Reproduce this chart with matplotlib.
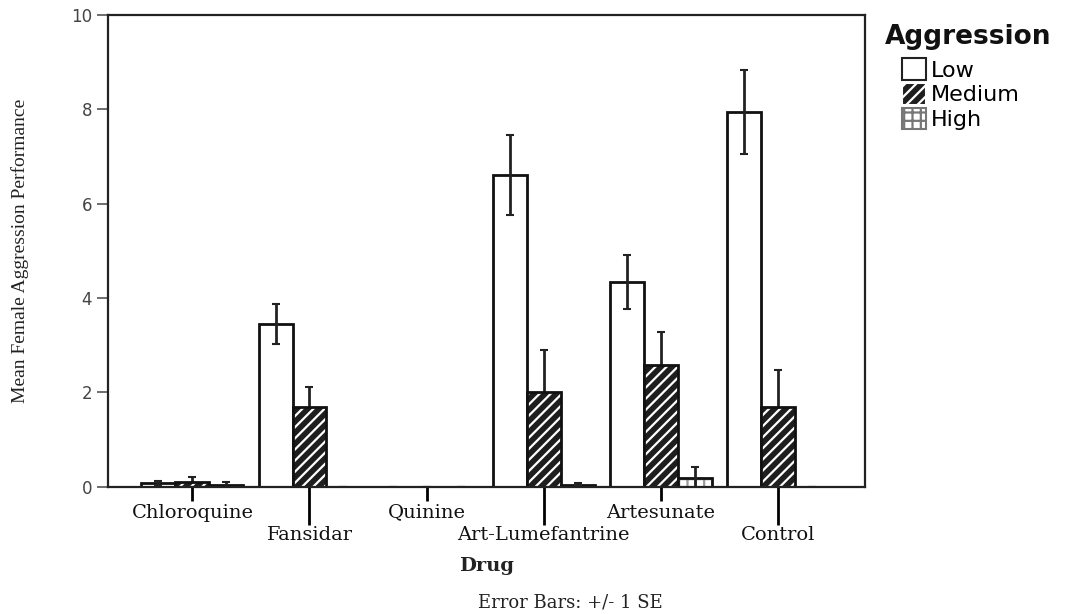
import matplotlib
matplotlib.use("Agg")
import matplotlib.pyplot as plt
from matplotlib.patches import Patch
import numpy as np

drugs = ["Chloroquine", "Fansidar", "Quinine", "Art-Lumefantrine", "Artesunate", "Control"]
levels = ["Low", "Medium", "High"]

low_mean = [0.08, 3.45, 0.0, 6.61, 4.34, 7.94]
low_se = [0.05, 0.43, 0.0, 0.85, 0.58, 0.88]
med_mean = [0.10, 1.69, 0.0, 2.01, 2.58, 1.69]
med_se = [0.10, 0.43, 0.0, 0.90, 0.70, 0.79]
high_mean = [0.05, 0.0, 0.0, 0.05, 0.19, 0.0]
high_se = [0.05, 0.0, 0.0, 0.04, 0.23, 0.0]

plt.rcParams['hatch.linewidth'] = 1.6

fig = plt.figure(figsize=(10.7, 6.14), dpi=100)
ax = fig.add_axes([0.101, 0.207, 0.707, 0.769])

x = np.arange(len(drugs))
w = 0.29
ebkw = dict(fmt='none', ecolor='#222222', elinewidth=2, capsize=3, capthick=1.5)

# low: white bars, error bar on top
ax.bar(x - w, low_mean, w, color='white', edgecolor='#111111', linewidth=2, zorder=2)
ax.errorbar(x - w, low_mean, yerr=low_se, zorder=3, **ebkw)

# medium: dark with white stripes, lower half of error bar hidden
ax.errorbar(x, med_mean, yerr=med_se, zorder=1, **ebkw)
ax.bar(x, med_mean, w, color='#1e1e1e', edgecolor='white', hatch='///', linewidth=0, zorder=2)
ax.bar(x, med_mean, w, fill=False, edgecolor='#111111', linewidth=2, zorder=2)

# high: light cross pattern
ax.bar(x + w, high_mean, w, color='white', edgecolor='#999999', hatch='++', linewidth=0, zorder=2)
ax.bar(x + w, high_mean, w, fill=False, edgecolor='#111111', linewidth=2, zorder=2)
ax.errorbar(x + w, high_mean, yerr=high_se, zorder=3, **ebkw)

ax.set_xlim(-0.72, 5.74)
ax.set_ylim(0, 10)
ax.set_yticks([0, 2, 4, 6, 8, 10])
ax.tick_params(axis='y', direction='out', length=8, width=1.2, color='#555555',
               labelcolor='#444444', labelsize=12)
for lab in ax.get_yticklabels():
    lab.set_family('DejaVu Sans')

# staggered category labels: short ticks for even, long ticks for odd
ax.set_xticks(x[::2])
ax.set_xticklabels(drugs[::2])
ax.set_xticks(x[1::2], minor=True)
ax.set_xticklabels(drugs[1::2], minor=True)
ax.tick_params(axis='x', which='major', direction='out', length=10, width=2, pad=2, labelsize=14)
ax.tick_params(axis='x', which='minor', direction='out', length=27, width=2, pad=1, labelsize=14)
for lab in ax.get_xticklabels() + ax.get_xticklabels(minor=True):
    lab.set_family('DejaVu Serif')
    lab.set_color('#111111')

for s in ax.spines.values():
    s.set_linewidth(1.6)
    s.set_color('#222222')

ax.set_ylabel('Mean Female Aggression Performance', family='Liberation Serif',
              fontsize=14, labelpad=30, color='#222222')

fig.text(0.455, 0.078, 'Drug', family='DejaVu Serif', weight='bold', fontsize=14,
         ha='center', va='center', color='#222222')
fig.text(0.533, 0.018, 'Error Bars: +/- 1 SE', family='DejaVu Serif', fontsize=13,
         ha='center', va='center', color='#222222')

# legend title drawn separately so the entries sit indented under it
fig.text(0.827, 0.94, 'Aggression', family='DejaVu Sans', weight='bold', fontsize=19,
         ha='left', va='center', color='#111111')
handles = [
    Patch(facecolor='white', edgecolor='#222222', linewidth=1.5),
    Patch(facecolor='#1e1e1e', edgecolor='white', hatch='///', linewidth=1.5),
    Patch(facecolor='white', edgecolor='#777777', hatch='++', linewidth=1.5),
]
leg = fig.legend(handles, levels, loc='upper left',
                 bbox_to_anchor=(0.843, 0.905), frameon=False,
                 prop={'family': 'DejaVu Sans', 'size': 16},
                 handlelength=1.1, handleheight=1.1, handletextpad=0.2,
                 labelspacing=0.12, borderaxespad=0, borderpad=0)

fig.savefig('out.png', dpi=100)
